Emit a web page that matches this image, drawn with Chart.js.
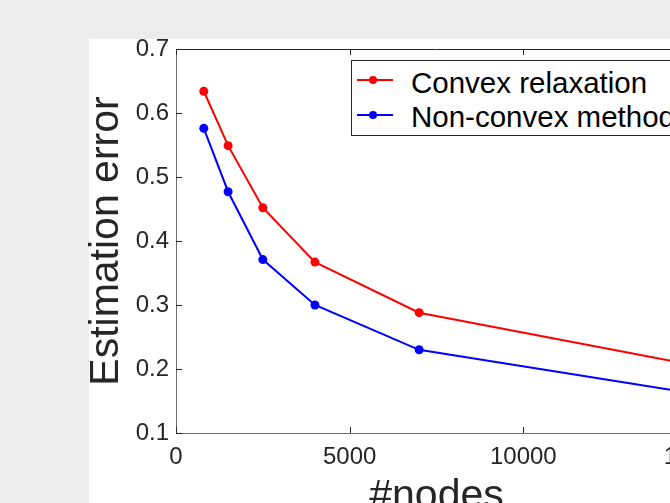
<!DOCTYPE html>
<html lang="en">
<head>
    <meta charset="UTF-8" />
    <title>Estimation error vs #nodes</title>
    <script src="https://cdn.jsdelivr.net/npm/chart.js"></script>
    <style>
        html, body {
            margin: 0;
            padding: 0;
            width: 670px;
            height: 503px;
            overflow: hidden;
            background: #ececec;
        }
        #figure {
            position: absolute;
            left: 89px;
            top: 39px;
            width: 700px;
            height: 500px;
            background: #fff;
        }
        #errorChart {
            position: absolute;
            left: 0;
            top: 0;
        }
        #legend {
            position: absolute;
            left: 351px;
            top: 60px;
            width: 340px;
            height: 76px;
            box-sizing: border-box;
            border: 1px solid #262626;
            background: #fff;
            font-family: 'Liberation Sans', Arial, sans-serif;
            font-size: 29.5px;
            color: #000;
        }
        .row {
            position: absolute;
            left: 0;
            height: 35px;
            line-height: 35px;
            white-space: nowrap;
        }
        .row .line {
            position: absolute;
            left: 5px;
            top: 14.5px;
            width: 36px;
            height: 2px;
        }
        .row .dot {
            position: absolute;
            left: 17px;
            top: 11.5px;
            width: 8px;
            height: 8px;
            border-radius: 50%;
        }
        .row .txt {
            position: absolute;
            left: 59px;
            top: 0;
        }
    </style>
</head>
<body>

<div id="figure"></div>
<canvas id="errorChart" width="760" height="560"></canvas>
<div id="legend"></div>

<script>
    // data
    const nodes = [800, 1500, 2500, 4000, 7000, 15000];
    const convexError = [0.634, 0.549, 0.452, 0.367, 0.288, 0.205];
    const nonConvexError = [0.576, 0.477, 0.371, 0.300, 0.230, 0.161];
    const seriesNames = ['Convex relaxation', 'Non-convex method'];
    const seriesColors = ['#ff0000', '#0000ff'];
    const xTicks = [0, 5000, 10000, 15000];
    const yTicks = [0.1, 0.2, 0.3, 0.4, 0.5, 0.6, 0.7];

    const FONT = "'Liberation Sans', Arial, sans-serif";
    const AXIS = '#262626';

    function toPoints(values) {
        return nodes.map((n, i) => ({ x: n, y: values[i] }));
    }

    // MATLAB-like box with inward ticks
    const boxTicks = {
        id: 'boxTicks',
        afterDraw(chart) {
            const { ctx, chartArea: a, scales: { x, y } } = chart;
            ctx.save();
            ctx.strokeStyle = AXIS;
            ctx.lineWidth = 1;
            ctx.beginPath();
            ctx.moveTo(a.left, a.top + 0.5);
            ctx.lineTo(a.right, a.top + 0.5);
            ctx.moveTo(a.right - 0.5, a.top);
            ctx.lineTo(a.right - 0.5, a.bottom);
            x.ticks.forEach(t => {
                const px = Math.round(x.getPixelForValue(t.value)) + 0.5;
                ctx.moveTo(px, a.bottom);
                ctx.lineTo(px, a.bottom - 6);
                ctx.moveTo(px, a.top);
                ctx.lineTo(px, a.top + 6);
            });
            y.ticks.forEach(t => {
                const py = Math.round(y.getPixelForValue(t.value)) + 0.5;
                ctx.moveTo(a.left, py);
                ctx.lineTo(a.left + 6, py);
                ctx.moveTo(a.right, py);
                ctx.lineTo(a.right - 6, py);
            });
            ctx.stroke();
            ctx.restore();
        }
    };

    const datasets = [convexError, nonConvexError].map((vals, i) => ({
        label: seriesNames[i],
        data: toPoints(vals),
        borderColor: seriesColors[i],
        backgroundColor: seriesColors[i],
        pointBackgroundColor: seriesColors[i],
        pointBorderWidth: 0,
        pointRadius: 4.5,
        borderWidth: 2,
        tension: 0,
        fill: false
    }));

    new Chart(document.getElementById('errorChart').getContext('2d'), {
        type: 'line',
        data: { datasets: datasets },
        options: {
            responsive: false,
            animation: false,
            layout: { padding: { left: 0, top: 49, right: 63, bottom: 0 } },
            plugins: {
                legend: { display: false },
                tooltip: { enabled: false }
            },
            scales: {
                x: {
                    type: 'linear',
                    min: 0,
                    max: 15000,
                    afterBuildTicks: s => { s.ticks = xTicks.map(v => ({ value: v })); },
                    afterFit: s => { s.height = 560 - 433; },
                    grid: { display: false, drawTicks: false },
                    border: { display: true, color: '#6e6e6e', width: 1 },
                    ticks: {
                        color: AXIS,
                        padding: 10,
                        font: { family: FONT, size: 24 },
                        callback: v => String(v)
                    },
                    title: {
                        display: true,
                        text: '#nodes',
                        color: AXIS,
                        font: { family: FONT, size: 41, lineHeight: 1 },
                        padding: { top: 0, bottom: 42.5 }
                    }
                },
                y: {
                    min: 0.1,
                    max: 0.7,
                    afterBuildTicks: s => { s.ticks = yTicks.map(v => ({ value: v })); },
                    afterFit: s => { s.width = 176; },
                    grid: { display: false, drawTicks: false },
                    border: { display: true, color: '#6e6e6e', width: 1 },
                    ticks: {
                        color: AXIS,
                        padding: 7,
                        font: { family: FONT, size: 24 },
                        callback: v => v.toFixed(1)
                    },
                    title: {
                        display: true,
                        text: 'Estimation error',
                        color: AXIS,
                        font: { family: FONT, size: 41, lineHeight: 1 },
                        padding: { top: 86, bottom: 0 }
                    }
                }
            }
        },
        plugins: [boxTicks]
    });

    // legend box, built from the series names
    const legend = document.getElementById('legend');
    seriesNames.forEach((name, i) => {
        const row = document.createElement('div');
        row.className = 'row';
        row.style.top = (i === 0 ? 3.5 : 38) + 'px';
        row.innerHTML = '<span class="line" style="background:' + seriesColors[i] + '"></span>' +
            '<span class="dot" style="background:' + seriesColors[i] + '"></span>' +
            '<span class="txt"></span>';
        row.querySelector('.txt').textContent = name;
        legend.appendChild(row);
    });
</script>

</body>
</html>
